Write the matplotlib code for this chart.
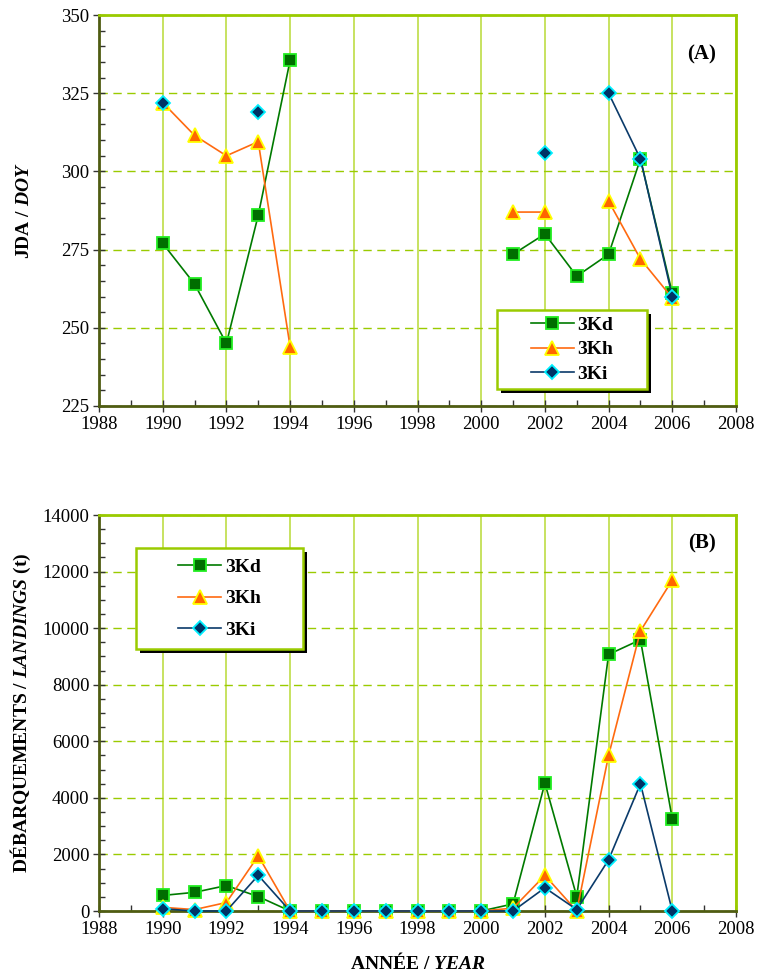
import numpy as np
import matplotlib
matplotlib.use("Agg")
import matplotlib.pyplot as plt
from matplotlib.ticker import MultipleLocator
from matplotlib.patches import Rectangle

plt.rcParams['font.family'] = ['Liberation Serif', 'DejaVu Serif']
plt.rcParams['mathtext.fontset'] = 'custom'
plt.rcParams['mathtext.rm'] = 'Liberation Serif:bold'
plt.rcParams['mathtext.it'] = 'Liberation Serif:bold:italic'
plt.rcParams['mathtext.bf'] = 'Liberation Serif:bold'

nan = np.nan
years = list(range(1990, 2007))
series_names = ['3Kd', '3Kh', '3Ki']

# Day of year (JDA / DOY)
doy_3kd = [277, 264, 245, 286, 335.5, nan, nan, nan, nan, nan, nan, 273.5, 280, 266.5, 273.5, 304, 261]
doy_3kh = [322, 311.5, 305, 309.5, 244, nan, nan, nan, nan, nan, nan, 287, 287, nan, 290.5, 272, 259.5]
doy_3ki = [322, nan, nan, 319, nan, nan, nan, nan, nan, nan, nan, nan, 306, nan, 325, 304, 260]

# Landings (t)
land_3kd = [550, 660, 900, 510, 0, 0, 0, 0, 0, 0, 0, 250, 4520, 510, 9070, 9590, 3250]
land_3kh = [130, 50, 300, 1950, 0, 0, 0, 0, 0, 0, 0, 100, 1260, 0, 5500, 9900, 11700]
land_3ki = [80, 0, 0, 1260, 0, 0, 0, 0, 0, 0, 0, 0, 820, 50, 1810, 4500, 0]

styles = [
    dict(color='#007a00', marker='s', mfc='#006e00', mec='#22ee22', ms=8, mew=1.3),
    dict(color='#ff6a10', marker='^', mfc='#ff6600', mec='#ffff00', ms=10.5, mew=1.3),
    dict(color='#0a3a6a', marker='D', mfc='#003366', mec='#00f0ff', ms=7.5, mew=1.3),
]

GRID_V = '#bedd46'
GRID_H = '#9acb00'
SPINE_DARK = '#4f5c12'

W, H = 758, 976
fig = plt.figure(figsize=(W / 100, H / 100), dpi=100)
axA = fig.add_axes([99 / W, 1 - 406 / H, (736 - 99) / W, (406 - 15) / H])
axB = fig.add_axes([99 / W, 1 - 911 / H, (736 - 99) / W, (911 - 515) / H])


def style_axes(ax, ylo, yhi, ymaj, ymin):
    ax.set_xlim(1988, 2008)
    ax.set_ylim(ylo, yhi)
    ax.xaxis.set_major_locator(MultipleLocator(2))
    ax.xaxis.set_minor_locator(MultipleLocator(1))
    ax.yaxis.set_major_locator(MultipleLocator(ymaj))
    ax.yaxis.set_minor_locator(MultipleLocator(ymin))
    ax.tick_params(which='major', direction='inout', length=8, width=1, color='#333333',
                   labelsize=13.5, pad=3)
    ax.tick_params(which='minor', direction='in', length=4, width=1, color='#333333')
    for s in ('top', 'right'):
        ax.spines[s].set_color(GRID_H)
        ax.spines[s].set_linewidth(2)
    for s in ('left', 'bottom'):
        ax.spines[s].set_color(SPINE_DARK)
        ax.spines[s].set_linewidth(2)
    ax.xaxis.grid(True, which='major', color=GRID_V, lw=1.2, ls='-')
    ax.yaxis.grid(True, which='major', color=GRID_H, lw=1.0, ls=(0, (6, 4)))
    ax.set_axisbelow(True)


def legend_box(ax, x0, y0, x1, y1, spacing):
    """Legend in a framed box with a solid drop shadow; box given in figure pixels."""
    shadow = Rectangle(((x0 + 4) / W, 1 - (y1 + 4) / H), (x1 - x0) / W, (y1 - y0) / H,
                       transform=fig.transFigure, facecolor='black', edgecolor='none',
                       zorder=20)
    frame = Rectangle((x0 / W, 1 - y1 / H), (x1 - x0) / W, (y1 - y0) / H,
                      transform=fig.transFigure, facecolor='white', edgecolor=GRID_H,
                      linewidth=1.8, zorder=21)
    fig.patches.extend([shadow, frame])
    cx, cy = (x0 + x1) / 2 / W, 1 - (y0 + y1) / 2 / H
    leg = ax.legend(loc='center', bbox_to_anchor=(cx, cy), bbox_transform=fig.transFigure,
                    frameon=False,
                    prop={'family': 'Liberation Serif', 'weight': 'bold', 'size': 14},
                    handlelength=2.2, handletextpad=0.2, labelspacing=spacing,
                    borderpad=0, borderaxespad=0)
    leg.set_zorder(22)
    fig.legends.append(leg)
    ax.get_legend().remove()


# Panel A: day of year
style_axes(axA, 225, 350, 25, 5)
for vals, name, st in zip([doy_3kd, doy_3kh, doy_3ki], series_names, styles):
    axA.plot(years, vals, lw=1.2, label=name, clip_on=False, zorder=3, **st)
axA.set_ylabel('JDA / $\\mathit{DOY}$', fontsize=14, fontweight='bold')
axA.yaxis.set_label_coords(-0.104, 0.5)
axA.text(0.968, 0.90, '(A)', transform=axA.transAxes, ha='right', va='center',
         fontsize=15, fontweight='bold')
legend_box(axA, 497, 310, 647, 389, 0.36)

# Panel B: landings
style_axes(axB, 0, 14000, 2000, 500)
for vals, name, st in zip([land_3kd, land_3kh, land_3ki], series_names, styles):
    axB.plot(years, vals, lw=1.2, label=name, clip_on=False, zorder=3, **st)
axB.set_ylabel('DÉBARQUEMENTS / $\\mathit{LANDINGS}$ (t)', fontsize=14, fontweight='bold')
axB.yaxis.set_label_coords(-0.104, 0.5)
axB.set_xlabel('ANNÉE / $\\mathit{YEAR}$', fontsize=14, fontweight='bold', labelpad=10)
axB.text(0.968, 0.929, '(B)', transform=axB.transAxes, ha='right', va='center',
         fontsize=15, fontweight='bold')
legend_box(axB, 136, 548, 303, 649, 0.73)

fig.savefig('out.png', dpi=100)
